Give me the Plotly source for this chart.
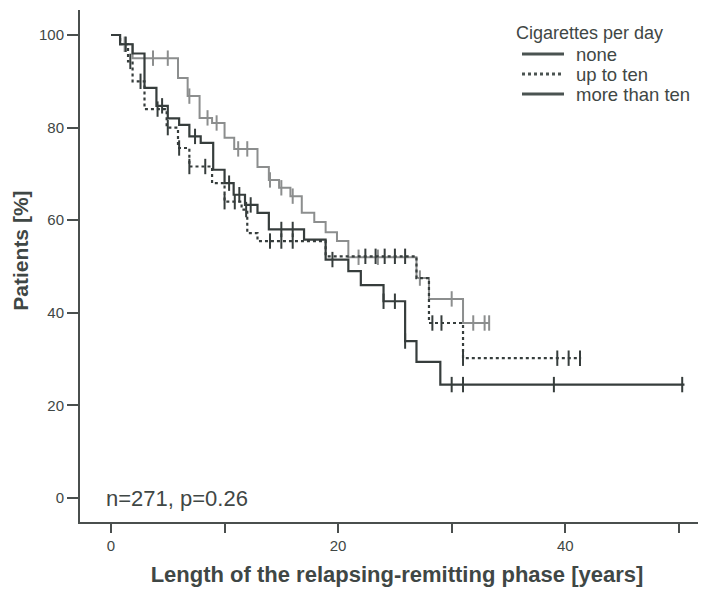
import numpy as np
import plotly.graph_objects as go

# Kaplan-Meier step data (years, % patients)
none_t = [0, 0.8, 1.9, 5.9, 6.75, 7.8, 8.9, 10.0, 10.85, 12.9, 13.9, 14.8, 15.8, 16.8, 17.9, 18.9, 19.9, 20.9, 26.9, 28.0, 31.0, 33.3]
none_s = [100, 98, 95, 90.7, 86.8, 82.1, 81, 77.8, 75.4, 71.5, 68.7, 67, 65.2, 61.6, 59.6, 57.4, 55.5, 52, 47.5, 43, 37.8, 37.8]
none_cens = [1.2, 3.7, 5.0, 6.9, 8.5, 9.3, 11.2, 12.0, 14.0, 15.0, 16.0, 21.8, 23.5, 27.2, 30.0, 31.9, 32.9, 33.3]

ten_t = [0, 0.8, 1.5, 1.9, 2.95, 4.9, 5.9, 6.9, 8.9, 10.0, 11.5, 12.0, 12.9, 18.9, 26.9, 28.0, 31.0, 41.4]
ten_s = [100, 98, 94.3, 90, 84, 80, 75.6, 71.6, 68, 64, 62.3, 57.2, 55.5, 52.2, 47.5, 37.8, 30.2, 30.2]
ten_cens = [1.7, 2.6, 4.1, 5.0, 6.0, 6.9, 8.3, 10.0, 10.9, 11.9, 14.0, 15.0, 16.0, 22.4, 23.3, 24.1, 25.0, 25.9, 28.3, 29.1, 31.0, 39.3, 40.3, 41.3]

more_t = [0, 0.8, 1.9, 2.95, 4.0, 5.0, 6.0, 6.9, 7.9, 9.0, 10.0, 10.8, 11.8, 12.9, 13.9, 17.0, 18.9, 20.9, 22.0, 24.0, 25.9, 26.9, 29.0, 50.5]
more_s = [100, 98, 96, 88.6, 84.7, 82, 80.6, 78.1, 76.7, 70.9, 68, 65.5, 63.3, 61.6, 58, 55.8, 51.5, 49, 46, 42.5, 33.9, 29.4, 24.5, 24.5]
more_cens = [1.3, 4.5, 7.4, 10.4, 11.3, 12.3, 15.0, 16.0, 19.5, 24.0, 25.0, 25.9, 30.0, 31.0, 39.0, 50.3]

group_names = ["none", "up to ten", "more than ten"]
legend_title = "Cigarettes per day"

x_tickvals = [0, 10, 20, 30, 40, 50]
x_ticktext = ["0", "", "20", "", "40", ""]
y_tickvals = [0, 20, 40, 60, 80, 100]

TXT = "#3f4745"
GRAY = "#8c8e8e"
DARK = "#363d3c"
LEG = "#4a5351"
AXC = "#4a4f4e"
FONT = "Liberation Sans, Arial, sans-serif"

W, H = 706, 589
ML, MR, MT, MB = 72, 0, 2, 75


def px2paper_x(px):
    return (px - ML) / (W - ML - MR)


def px2paper_y(py):
    return (H - MB - py) / (H - MT - MB)


def step_at(t, s, c):
    t = np.asarray(t)
    s = np.asarray(s)
    idx = np.searchsorted(t, np.asarray(c), side="right") - 1
    return s[np.clip(idx, 0, len(s) - 1)]


groups = [
    (group_names[0], none_t, none_s, none_cens, GRAY, "solid", 2.0),
    (group_names[1], ten_t, ten_s, ten_cens, DARK, "dot", 2.2),
    (group_names[2], more_t, more_s, more_cens, DARK, "solid", 2.2),
]

fig = go.Figure()
for name, t, s, c, col, dash, w in groups:
    fig.add_trace(go.Scatter(
        x=t, y=s, mode="lines", name=name, showlegend=False,
        line=dict(color=col, width=w, dash=dash, shape="hv"),
    ))
    fig.add_trace(go.Scatter(
        x=c, y=step_at(t, s, c), mode="markers", showlegend=False,
        marker=dict(symbol="line-ns", size=11, line=dict(color=col, width=2), color=col),
    ))

# compact legend (as printed): title + three swatch rows
annotations = [
    dict(text=legend_title, xref="paper", yref="paper",
         x=px2paper_x(506), y=px2paper_y(25), xanchor="left", yanchor="middle",
         showarrow=False, font=dict(size=18, color=TXT)),
]
shapes = []
row_y = [46, 66, 86]
for (name, t, s, c, col, dash, w), ry in zip(groups, row_y):
    shapes.append(dict(type="line", xref="paper", yref="paper",
                       x0=px2paper_x(514), x1=px2paper_x(556),
                       y0=px2paper_y(ry), y1=px2paper_y(ry),
                       line=dict(color=LEG, width=3, dash=dash)))
    annotations.append(dict(text=name, xref="paper", yref="paper",
                            x=px2paper_x(566), y=px2paper_y(ry), xanchor="left", yanchor="middle",
                            showarrow=False, font=dict(size=18.5, color=TXT)))

annotations += [
    dict(text="n=271, p=0.26", xref="paper", yref="y", x=0, y=0, xshift=24,
         xanchor="left", yanchor="middle", showarrow=False,
         font=dict(size=22, color=TXT)),
    dict(text="<b>Patients [%]</b>", xref="paper", yref="paper", x=0, y=0.53, xshift=-59,
         xanchor="center", yanchor="middle", textangle=-90, showarrow=False,
         font=dict(size=21, color=TXT)),
]

fig.update_layout(
    width=W, height=H,
    margin=dict(l=ML, r=MR, t=MT, b=MB),
    paper_bgcolor="white", plot_bgcolor="white",
    font=dict(family=FONT, color=TXT, size=15),
    showlegend=False,
    xaxis=dict(
        range=[-2.73, 53.1], tickvals=x_tickvals, ticktext=x_ticktext,
        showline=True, linecolor=AXC, linewidth=2,
        ticks="outside", ticklen=9, tickwidth=2, tickcolor=AXC,
        showgrid=False, zeroline=False, automargin=False,
        tickfont=dict(size=15, color=TXT),
        title=dict(text="<b>Length of the relapsing-remitting phase [years]</b>",
                   font=dict(size=22, color=TXT), standoff=14),
    ),
    yaxis=dict(
        range=[-5.18, 105.4], tickvals=y_tickvals,
        showline=True, linecolor=AXC, linewidth=2,
        ticks="outside", ticklen=11, tickwidth=2, tickcolor=AXC,
        showgrid=False, zeroline=False, automargin=False,
        tickfont=dict(size=15, color=TXT),
    ),
    shapes=shapes,
    annotations=annotations,
)

fig.write_html("out.html")
